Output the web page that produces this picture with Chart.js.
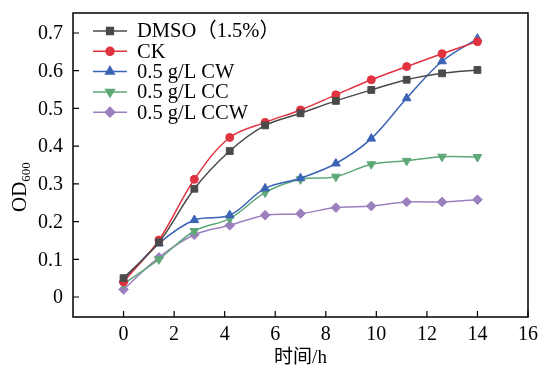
<!DOCTYPE html>
<html>
<head>
<meta charset="utf-8">
<script src="https://cdn.jsdelivr.net/npm/chart.js@4/dist/chart.umd.min.js"></script>
<style>
body { margin: 0; background: #fff; overflow: hidden; }
#wrap { width: 542px; height: 367px; }
</style>
</head>
<body>
<div id="wrap"><canvas id="odChart"></canvas></div>
<script>
// sampling times (h)
var times = [0, 1.4, 2.8, 4.2, 5.6, 7, 8.4, 9.8, 11.2, 12.6, 14];

var dmso = [0.05, 0.145, 0.287, 0.387, 0.455, 0.487, 0.52, 0.549, 0.576, 0.593, 0.602];
var ck   = [0.04, 0.151, 0.312, 0.423, 0.463, 0.496, 0.536, 0.576, 0.611, 0.645, 0.677];
var cw   = [0.045, 0.142, 0.204, 0.217, 0.288, 0.315, 0.354, 0.42, 0.527, 0.625, 0.685];
var cc   = [0.035, 0.1, 0.175, 0.208, 0.277, 0.312, 0.319, 0.352, 0.361, 0.372, 0.371];
var ccw  = [0.02, 0.105, 0.165, 0.19, 0.217, 0.221, 0.237, 0.241, 0.252, 0.252, 0.258];

var seriesNames = ['DMSO（1.5%）', 'CK', '0.5 g/L CW', '0.5 g/L CC', '0.5 g/L CCW'];
var xTicks = [0, 2, 4, 6, 8, 10, 12, 14, 16];
var yTicks = [0, 0.1, 0.2, 0.3, 0.4, 0.5, 0.6, 0.7];

var serif = '"Liberation Serif", "Times New Roman", "Noto Sans CJK SC", serif';

function pts(ys) {
    return times.map(function (t, i) { return {x: t, y: ys[i]}; });
}

function makeSet(label, ys, color, style, rot, r) {
    return {
        label: label,
        data: pts(ys),
        borderColor: color,
        backgroundColor: color,
        borderWidth: 1.5,
        pointStyle: style,
        pointRotation: rot,
        pointRadius: r,
        pointBorderWidth: 1,
        tension: 0.35
    };
}

var sets = [
    makeSet(seriesNames[0], dmso, '#4a4a4a', 'rect', 0, 4.8),
    makeSet(seriesNames[1], ck, '#e0323f', 'circle', 0, 4),
    makeSet(seriesNames[2], cw, '#3b63b5', 'triangle', 0, 5),
    makeSet(seriesNames[3], cc, '#5ea878', 'triangle', 180, 5),
    makeSet(seriesNames[4], ccw, '#9b80bd', 'rectRot', 0, 4.8)
];

// frame, inward ticks, tick labels, legend and y title
var decor = {
    id: 'decor',
    afterDraw: function (chart) {
        var ctx = chart.ctx;
        var a = chart.chartArea;
        var xs = chart.scales.x, ys = chart.scales.y;
        ctx.save();
        ctx.strokeStyle = '#000';
        ctx.lineWidth = 1.5;
        ctx.beginPath();
        ctx.moveTo(a.left, a.top);
        ctx.lineTo(a.right, a.top);
        ctx.lineTo(a.right, a.bottom);
        ctx.lineTo(a.left, a.bottom);
        ctx.closePath();
        ctx.stroke();

        ctx.lineWidth = 1.2;
        ctx.beginPath();
        xTicks.forEach(function (v) {
            var px = xs.getPixelForValue(v);
            ctx.moveTo(px, a.bottom);
            ctx.lineTo(px, a.bottom - 6);
        });
        yTicks.forEach(function (v) {
            var py = ys.getPixelForValue(v);
            ctx.moveTo(a.left, py);
            ctx.lineTo(a.left + 6, py);
        });
        ctx.stroke();

        ctx.fillStyle = '#000';
        ctx.font = '20px ' + serif;
        ctx.textAlign = 'right';
        ctx.textBaseline = 'middle';
        yTicks.forEach(function (v) {
            ctx.fillText(v === 0 ? '0' : v.toFixed(1), a.left - 10, ys.getPixelForValue(v) + 1);
        });
        ctx.textAlign = 'center';
        ctx.textBaseline = 'top';
        xTicks.forEach(function (v) {
            ctx.fillText(String(v), xs.getPixelForValue(v), a.bottom + 8);
        });

        // legend
        ctx.font = '20.5px ' + serif;
        ctx.textBaseline = 'middle';
        ctx.textAlign = 'left';
        chart.data.datasets.forEach(function (ds, i) {
            var y = 31 + i * 20.3;
            ctx.strokeStyle = ds.borderColor;
            ctx.lineWidth = 1.5;
            ctx.beginPath();
            ctx.moveTo(93, y);
            ctx.lineTo(127, y);
            ctx.stroke();
            ctx.fillStyle = ds.backgroundColor;
            Chart.helpers.drawPoint(ctx, {
                pointStyle: ds.pointStyle,
                rotation: ds.pointRotation,
                radius: ds.pointRadius,
                borderWidth: 1
            }, 110, y);
            ctx.fillStyle = '#000';
            ctx.fillText(ds.label, 137, y + 1);
        });

        // x title
        ctx.textAlign = 'center';
        ctx.textBaseline = 'middle';
        ctx.font = '19px ' + serif;
        ctx.fillText('时间/h', (a.left + a.right) / 2, 358);

        // y title OD600
        ctx.translate(26, 212);
        ctx.rotate(-Math.PI / 2);
        ctx.textAlign = 'left';
        ctx.textBaseline = 'alphabetic';
        ctx.font = '21px ' + serif;
        ctx.fillText('OD', 0, 0);
        var w = ctx.measureText('OD').width;
        ctx.font = '13px ' + serif;
        ctx.fillText('600', w, 4);
        ctx.restore();
    }
};

var chart = new Chart(document.getElementById('odChart').getContext('2d'), {
    type: 'line',
    data: { datasets: sets },
    plugins: [decor],
    options: {
        responsive: true,
        maintainAspectRatio: false,
        animation: false,
        layout: { padding: { top: 13, right: 14, left: 0, bottom: 0 } },
        plugins: {
            legend: { display: false },
            tooltip: { enabled: false }
        },
        scales: {
            x: {
                type: 'linear',
                min: -2,
                max: 16,
                afterBuildTicks: function (s) { s.ticks = xTicks.map(function (v) { return {value: v}; }); },
                afterFit: function (s) { s.height = 50; },
                grid: { display: false },
                border: { display: false },
                ticks: { display: false }
            },
            y: {
                min: -0.053,
                max: 0.753,
                afterBuildTicks: function (s) { s.ticks = yTicks.map(function (v) { return {value: v}; }); },
                afterFit: function (s) { s.width = 73; },
                grid: { display: false },
                border: { display: false },
                ticks: { display: false }
            }
        }
    }
});
</script>
</body>
</html>
